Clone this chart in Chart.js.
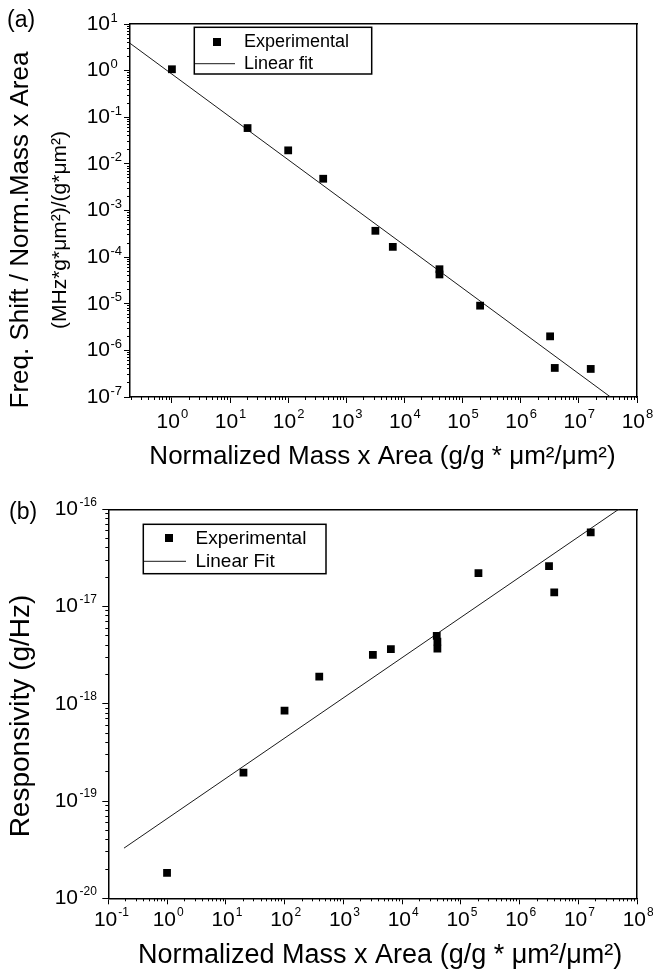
<!DOCTYPE html>
<html>
<head>
<meta charset="utf-8">
<script src="https://cdn.jsdelivr.net/npm/chart.js@4.4.1/dist/chart.umd.min.js"></script>
<style>
html,body{margin:0;padding:0;background:#fff;}
#wrap{position:relative;width:653px;height:970px;overflow:hidden;background:#fff;}
.panel{position:absolute;left:0;width:653px;}
.tag{position:absolute;font-family:"Liberation Sans",Arial,sans-serif;font-size:23px;line-height:1;color:#000;}
</style>
</head>
<body>
<div id="wrap">
  <div class="panel" style="top:0;height:480px"><canvas id="chartA" width="653" height="480"></canvas></div>
  <div class="panel" style="top:480px;height:490px"><canvas id="chartB" width="653" height="490"></canvas></div>
  <div class="tag" style="left:7px;top:8px">(a)</div>
  <div class="tag" style="left:9px;top:500px">(b)</div>
</div>
<script>
// ---------------- data ----------------
// Panel (a)
const massAreaA  = [1, 20, 100, 400, 3160, 6300, 40000, 40000, 2.0e5, 3.2e6, 3.85e6, 1.6e7];
const freqShiftA = [1.07, 0.0586, 0.0195, 0.0048, 3.67e-4, 1.66e-4, 5.5e-5, 4.25e-5, 9.1e-6, 2.0e-6, 4.2e-7, 4.0e-7];
const fitXA = [0.19, 3.5e7];
const fitYA = [3.86, 1e-7];

// Panel (b)
const massAreaB     = [1, 20, 100, 390, 3190, 6460, 39000, 40000, 40000, 2.0e5, 3.18e6, 3.9e6, 1.63e7];
const responsivityB = [1.83e-20, 1.96e-19, 8.5e-19, 1.9e-18, 3.18e-18, 3.64e-18, 5.0e-18, 4.36e-18, 3.7e-18, 2.21e-17, 2.6e-17, 1.4e-17, 5.8e-17];
const fitXB = [0.185, 4.88e7];
const fitYB = [3.28e-20, 1e-16];

// Ticks: value, base text and superscript exponent text
const tickBase = '10';
const xTickValuesA = [1e0, 1e1, 1e2, 1e3, 1e4, 1e5, 1e6, 1e7, 1e8];
const xTickExpA    = ['0', '1', '2', '3', '4', '5', '6', '7', '8'];
const yTickValuesA = [1e-7, 1e-6, 1e-5, 1e-4, 1e-3, 1e-2, 1e-1, 1e0, 1e1];
const yTickExpA    = ['-7', '-6', '-5', '-4', '-3', '-2', '-1', '0', '1'];
const xTickValuesB = [1e-1, 1e0, 1e1, 1e2, 1e3, 1e4, 1e5, 1e6, 1e7, 1e8];
const xTickExpB    = ['-1', '0', '1', '2', '3', '4', '5', '6', '7', '8'];
const yTickValuesB = [1e-20, 1e-19, 1e-18, 1e-17, 1e-16];
const yTickExpB    = ['-20', '-19', '-18', '-17', '-16'];
const minorMultipliers = [2, 3, 4, 5, 6, 7, 8, 9];

// Texts
const xTitleText = 'Normalized Mass x Area (g/g * μm²/μm²)';
const yTitleA1 = 'Freq. Shift / Norm.Mass x Area';
const yTitleA2 = '(MHz*g*μm²)/(g*μm²)';
const yTitleB = 'Responsivity (g/Hz)';
const legendA = ['Experimental', 'Linear fit'];
const legendB = ['Experimental', 'Linear Fit'];

// ---------------- helpers ----------------
const BLACK = '#000';
const FONT = '"Liberation Sans", Arial, Helvetica, sans-serif';
Chart.defaults.font.family = FONT;
Chart.defaults.color = BLACK;

function minorTicks(min, max) {
  const out = [];
  for (let e = Math.floor(Math.log10(min)); e < Math.ceil(Math.log10(max)); e++) {
    for (const m of minorMultipliers) {
      const v = m * Math.pow(10, e);
      if (v >= min * 0.999 && v <= max * 1.001) out.push(v);
    }
  }
  return out;
}
function zeroPad(a) { a.paddingLeft = 0; a.paddingRight = 0; a.paddingTop = 0; a.paddingBottom = 0; }

// axis with major ticks and the "10" part of the labels
function mainAxis(pos, min, max, values, fontSize, pad, offset, size) {
  return {
    type: 'logarithmic', position: pos, min, max, weight: 0, display: true,
    afterBuildTicks: a => { a.ticks = values.map(v => ({ value: v, major: true })); },
    ticks: { autoSkip: false, maxRotation: 0, minRotation: 0, color: BLACK,
             align: pos === 'bottom' ? 'end' : 'center', labelOffset: offset,
             font: { family: FONT, size: fontSize, lineHeight: 1.2 }, padding: pad,
             callback: () => tickBase },
    grid: { display: true, drawOnChartArea: false, drawTicks: true, tickLength: 6, tickWidth: 1, tickColor: BLACK },
    border: { display: true, color: BLACK, width: 1.5 },
    title: { display: false },
    afterFit: a => { if (a.isHorizontal()) a.height = size; else a.width = size; zeroPad(a); }
  };
}
// axis that only writes the superscript exponents of the same ticks
function expAxis(pos, min, max, values, exps, fontSize, offset) {
  return {
    type: 'logarithmic', position: pos, min, max, weight: -2, display: true,
    afterBuildTicks: a => { a.ticks = values.map(v => ({ value: v, major: true })); },
    ticks: { autoSkip: false, maxRotation: 0, minRotation: 0, color: BLACK,
             align: pos === 'bottom' ? 'start' : 'center', crossAlign: pos === 'bottom' ? 'near' : 'far',
             labelOffset: offset, padding: 0,
             font: { family: FONT, size: fontSize, lineHeight: 1.2 },
             callback: (v, i) => exps[i] },
    grid: { display: false, drawTicks: false },
    border: { display: false },
    afterFit: a => { if (a.isHorizontal()) a.height = 0; else a.width = 0; zeroPad(a); }
  };
}
function minorAxis(pos, min, max) {
  const vals = minorTicks(min, max);
  return {
    type: 'logarithmic', position: pos, min, max, weight: -1, display: true,
    afterBuildTicks: a => { a.ticks = vals.map(v => ({ value: v })); },
    ticks: { display: false, autoSkip: false },
    grid: { display: true, drawOnChartArea: false, drawTicks: true, tickLength: 3, tickWidth: 1, tickColor: BLACK },
    border: { display: false },
    afterFit: a => { if (a.isHorizontal()) a.height = 0; else a.width = 0; zeroPad(a); }
  };
}
function frameAxis(pos) {
  return {
    type: 'linear', position: pos, min: 0, max: 1, display: true, weight: 0,
    ticks: { display: false }, grid: { display: false },
    border: { display: true, color: BLACK, width: 1.5 },
    afterFit: a => { if (a.isHorizontal()) a.height = 0; else a.width = 0; zeroPad(a); }
  };
}
function titleAxis(pos, weight, text, fontSize, lineHeight, pad, size) {
  return {
    type: 'linear', position: pos, min: 0, max: 1, display: true, weight,
    ticks: { display: false }, grid: { display: false }, border: { display: false },
    title: { display: true, text, color: BLACK, font: { family: FONT, size: fontSize, lineHeight }, padding: pad },
    afterFit: a => { if (a.isHorizontal()) a.height = size; else a.width = size; zeroPad(a); }
  };
}
function squareSymbol(side, shift) {
  const c = document.createElement('canvas');
  c.width = side + 2 * shift; c.height = side;
  const g = c.getContext('2d');
  g.fillStyle = BLACK;
  g.fillRect(2 * shift, 0, side, side);
  return c;
}

const tweaks = {
  id: 'tweaks',
  afterLayout(chart, args, o) {
    const ca = chart.chartArea, lg = chart.legend;
    if (lg && o.legend) {
      lg.left = ca.left + o.legend.dx; lg.top = ca.top + o.legend.dy;
      lg.right = ca.right; lg.bottom = ca.bottom;
    }
    (o.shifts || []).forEach(s => {
      const sc = chart.scales[s.id];
      if (!sc) return;
      if (sc.isHorizontal()) { sc.left += s.d; sc.right += s.d; }
      else { sc.top += s.d; sc.bottom += s.d; }
    });
    const xe = chart.scales.xExp, ye = chart.scales.yExp;
    if (xe && o.xExpTop !== undefined) { xe.top = ca.bottom + o.xExpTop; xe.bottom = xe.top + 40; }
    if (ye && o.yExpLeft !== undefined) { ye.left = ca.left + o.yExpLeft; ye.right = ca.left; }
  },
  afterDraw(chart, args, o) {
    if (!o.frame) return;
    const lg = chart.legend, ctx = chart.ctx, f = o.frame;
    const pad = lg.options.labels.padding;
    ctx.save();
    ctx.strokeStyle = BLACK; ctx.lineWidth = f.lw;
    ctx.strokeRect(lg.left + pad + f.x, lg.top + pad + f.y, f.w, f.h);
    ctx.restore();
  }
};

function buildChart(id, p) {
  const pts = p.xs.map((x, i) => ({ x, y: p.ys[i] }));
  const fit = p.fx.map((x, i) => ({ x, y: p.fy[i] }));
  const sq = squareSymbol(8, p.sqShift);
  const scales = {
    x: mainAxis('bottom', p.xmin, p.xmax, p.xTicks, 21, p.xTickPad, p.xBaseOff, p.xAxisH),
    xMinor: minorAxis('bottom', p.xmin, p.xmax),
    xExp: expAxis('bottom', p.xmin, p.xmax, p.xTicks, p.xExps, p.expSize, p.xExpOff),
    xTitle: titleAxis('bottom', 1, xTitleText, p.xTitleSize, p.xTitleLH, { top: 0, bottom: p.xTitlePad }, p.xTitleH),
    xTop: frameAxis('top'),
    y: mainAxis('left', p.ymin, p.ymax, p.yTicks, 21, p.yTickPad, 0, p.yAxisW),
    yMinor: minorAxis('left', p.ymin, p.ymax),
    yExp: expAxis('left', p.ymin, p.ymax, p.yTicks, p.yExps, p.expSize, p.yExpOff),
    yRight: frameAxis('right')
  };
  p.yTitles.forEach((t, i) => {
    scales['yTitle' + i] = titleAxis('left', 3 - i, t.text, t.size, 1.2, { top: t.pad, bottom: 0 }, t.w);
  });
  return new Chart(document.getElementById(id), {
    type: 'scatter',
    data: {
      datasets: [
        { label: p.legend[0], data: pts, pointStyle: 'rect', pointRadius: 5.5, pointHoverRadius: 5.5,
          backgroundColor: BLACK, borderColor: BLACK, borderWidth: 0, showLine: false },
        { label: p.legend[1], data: fit, showLine: true, pointRadius: 0, borderColor: '#1a1a1a',
          borderWidth: 1, backgroundColor: BLACK, tension: 0 }
      ]
    },
    options: {
      responsive: false, animation: false, events: [],
      layout: { padding: { top: p.padTop, right: 16, bottom: 0, left: 0 } },
      scales,
      plugins: {
        tooltip: { enabled: false },
        legend: {
          display: true, position: 'chartArea', align: 'start',
          labels: {
            usePointStyle: true, pointStyleWidth: p.legBox, boxHeight: 8, padding: 4, color: BLACK,
            font: { family: FONT, size: p.legFont },
            generateLabels: () => [
              { text: p.legend[0], pointStyle: sq, fillStyle: BLACK, strokeStyle: BLACK, lineWidth: 0, datasetIndex: 0, hidden: false },
              { text: p.legend[1], pointStyle: 'line', fillStyle: BLACK, strokeStyle: '#1a1a1a', lineWidth: 1, datasetIndex: 1, hidden: false }
            ]
          }
        },
        tweaks: {
          legend: { dx: p.legDx, dy: p.legDy },
          frame: p.frame,
          shifts: p.shifts,
          xExpTop: p.xExpTop,
          yExpLeft: p.yExpLeft
        }
      }
    },
    plugins: [tweaks]
  });
}

buildChart('chartA', {
  xs: massAreaA, ys: freqShiftA, fx: fitXA, fy: fitYA,
  xmin: 0.19, xmax: 1e8, ymin: 1e-7, ymax: 10,
  xTicks: xTickValuesA, xExps: xTickExpA, yTicks: yTickValuesA, yExps: yTickExpA,
  expSize: 13, xBaseOff: 8, xExpOff: 9, xExpTop: 9.8, yExpOff: -6, yExpLeft: -19.5,
  xTickPad: 7, xAxisH: 40, xTitleSize: 26, xTitleLH: 1.2, xTitlePad: 7.9, xTitleH: 43,
  yTickPad: 14, yAxisW: 58,
  yTitles: [ { text: yTitleA1, size: 26, pad: 4.9, w: 40 }, { text: yTitleA2, size: 21, pad: 7.4, w: 32 } ],
  padTop: 24,
  legend: legendA, legFont: 18, legBox: 40, legDx: 61, legDy: 4.7, sqShift: 2,
  frame: { x: -0.7, y: -5.4, w: 177.4, h: 46.7, lw: 1.5 },
  shifts: [ { id: 'yTitle0', d: 19.5 }, { id: 'yTitle1', d: 19.5 }, { id: 'xTitle', d: -1 } ]
});

buildChart('chartB', {
  xs: massAreaB, ys: responsivityB, fx: fitXB, fy: fitYB,
  xmin: 0.1, xmax: 1e8, ymin: 1e-20, ymax: 1e-16,
  xTicks: xTickValuesB, xExps: xTickExpB, yTicks: yTickValuesB, yExps: yTickExpB,
  expSize: 12, xBaseOff: 9, xExpOff: 10, xExpTop: 7, yExpOff: -7, yExpLeft: -28.8,
  xTickPad: 3, xAxisH: 36, xTitleSize: 27, xTitleLH: 1.1, xTitlePad: 0, xTitleH: 35.7,
  yTickPad: 24.3, yAxisW: 63.3,
  yTitles: [ { text: yTitleB, size: 28, pad: 4.9, w: 45 } ],
  padTop: 29.3,
  legend: legendB, legFont: 19, legBox: 42, legDx: 31.7, legDy: 15.5, sqShift: 4,
  frame: { x: -0.7, y: -4.5, w: 182.7, h: 49.4, lw: 1.5 },
  shifts: [ { id: 'yTitle0', d: 12.2 }, { id: 'xTitle', d: 7.5 } ]
});
</script>
</body>
</html>
